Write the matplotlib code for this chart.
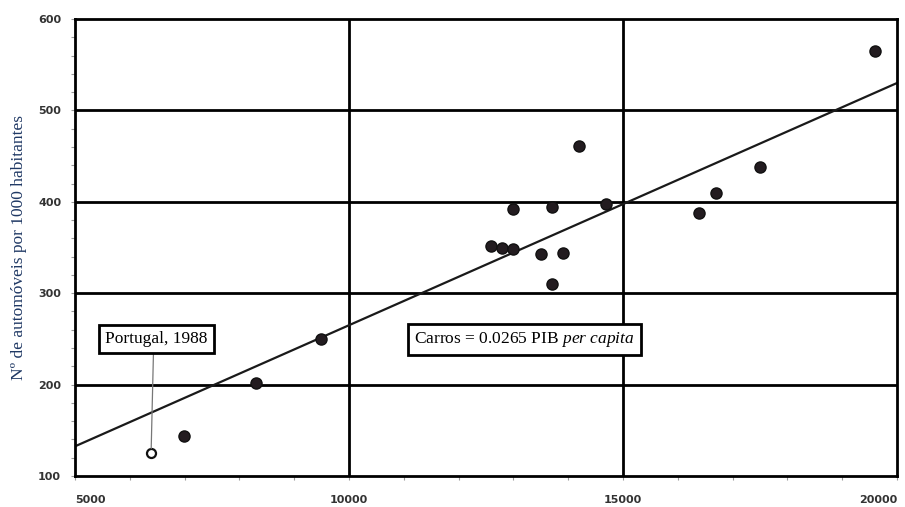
import matplotlib
matplotlib.use("Agg")
import matplotlib.pyplot as plt
from matplotlib.ticker import MultipleLocator

# PIB per capita vs automóveis por 1000 habitantes
pib = [6990, 8300, 9490, 12590, 12800, 13000, 13000, 13500, 13700, 13700,
       13900, 14190, 14690, 16390, 16690, 17500, 19590]
carros = [144, 202, 250, 352, 350, 348, 392, 343, 394, 310,
          344, 461, 398, 388, 410, 438, 565]
portugal_pib = 6390
portugal_carros = 125
declive = 0.0265  # Carros = 0.0265 PIB per capita
xticks = [5000, 10000, 15000, 20000]
yticks = [100, 200, 300, 400, 500, 600]

plt.rcParams['mathtext.fontset'] = 'custom'
plt.rcParams['mathtext.rm'] = 'Liberation Serif'
plt.rcParams['mathtext.it'] = 'Liberation Serif:italic'

fig = plt.figure(figsize=(9.05, 5.07), dpi=100)
ax = fig.add_axes([0.0829, 0.0611, 0.9083, 0.9014])

ax.set_xlim(5000, 20000)
ax.set_ylim(100, 600)

# grelha principal
for x in xticks[1:-1]:
    ax.axvline(x, color='black', lw=2, zorder=1)
for y in yticks[1:-1]:
    ax.axhline(y, color='black', lw=2, zorder=1)
for s in ax.spines.values():
    s.set_linewidth(2)

# reta de regressão
xs = [5000, 20000]
ax.plot(xs, [declive * v for v in xs], color='#1a1a1a', lw=1.6, zorder=2)

ax.plot(pib, carros, 'o', ms=8, color='#231c20', mec='#111111', zorder=3)
ax.plot(portugal_pib, portugal_carros, 'o', ms=6.5, mfc='white', mec='#111111',
        mew=1.6, zorder=3)

ax.annotate('Portugal, 1988', xy=(portugal_pib, portugal_carros + 5),
            xytext=(6490, 250), ha='center', va='center',
            family='Liberation Serif', fontsize=12.5,
            bbox=dict(boxstyle='square,pad=0.35', fc='white', ec='black', lw=2),
            arrowprops=dict(arrowstyle='-', color='#777777', lw=0.9,
                            relpos=(0.47, 0), shrinkA=0, shrinkB=0),
            zorder=4)
ax.text(13205, 249, r'Carros = 0.0265 PIB $\it{per\ capita}$', ha='center', va='center',
        family='Liberation Serif', fontsize=12.5,
        bbox=dict(boxstyle='square,pad=0.35', fc='white', ec='black', lw=2),
        zorder=4)

ax.set_xticks(xticks)
ax.set_yticks(yticks)
ax.xaxis.set_minor_locator(MultipleLocator(1000))
ax.yaxis.set_minor_locator(MultipleLocator(20))
ax.tick_params(which='both', direction='out', color='#999999', length=3, width=0.8)
ax.tick_params(axis='x', pad=11)
ax.tick_params(axis='y', pad=7)
for lab in ax.get_xticklabels() + ax.get_yticklabels():
    lab.set_fontsize(8)
    lab.set_fontweight('bold')
    lab.set_color('#333333')
ax.get_xticklabels()[0].set_ha('left')
ax.get_xticklabels()[-1].set_ha('right')

ax.set_ylabel('Nº de automóveis por 1000 habitantes', family='Liberation Serif',
              fontsize=12.5, color='#1f3864', labelpad=8)

fig.savefig('out.png', dpi=100)
